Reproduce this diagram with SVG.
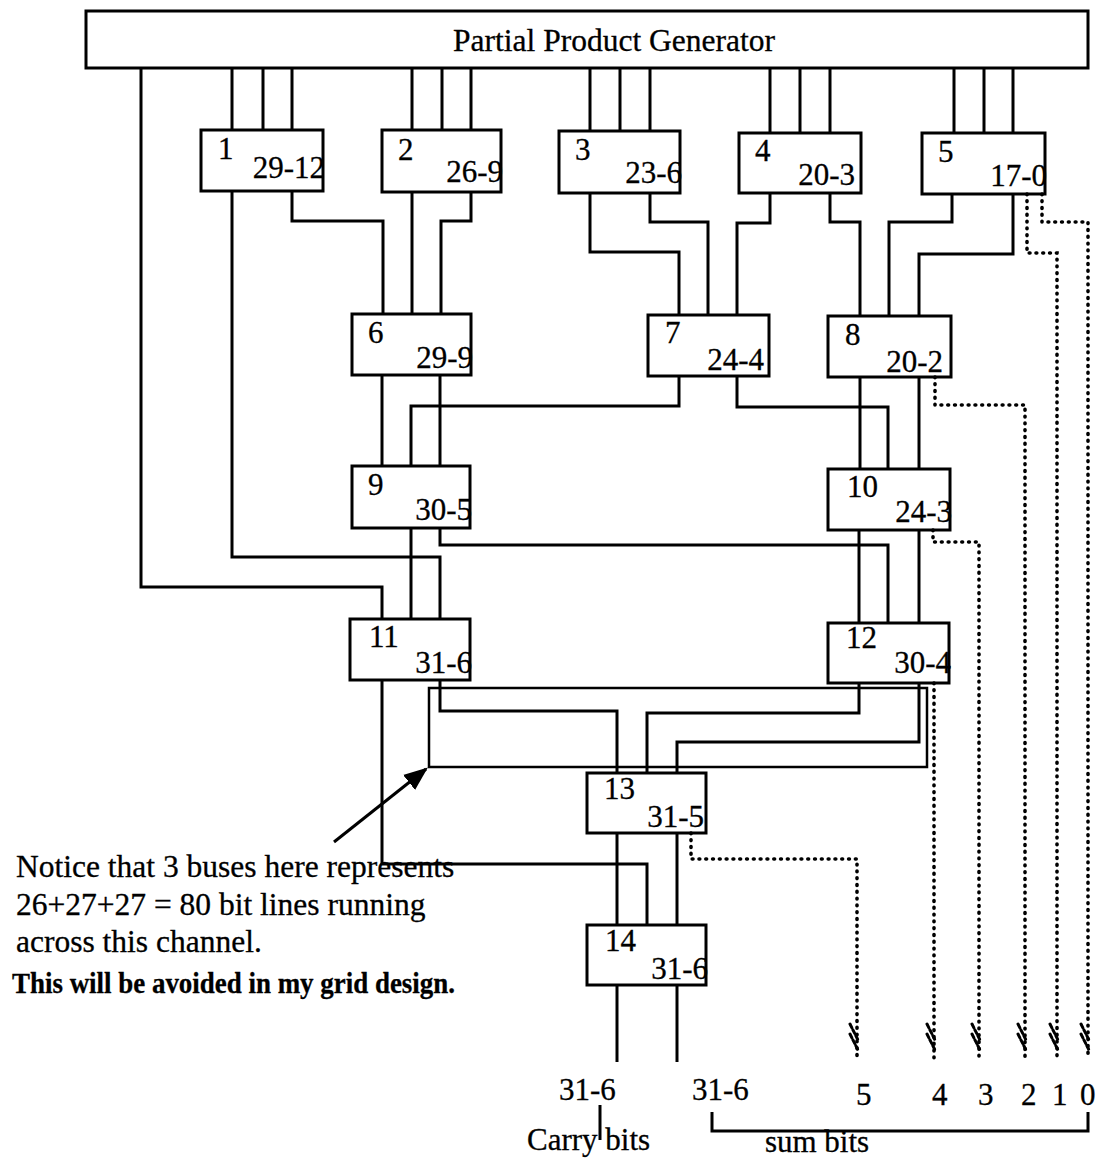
<svg xmlns="http://www.w3.org/2000/svg" width="1102" height="1171" viewBox="0 0 1102 1171">
<style>
  text { font-family: "Liberation Serif", "Times New Roman", serif; fill: #000; stroke: #000; stroke-width: 0.3; }
  .t { font-size: 31.5px; }
  .n { font-size: 31px; }
  .ann { font-size: 31.5px; }
  .bold { font-size: 29px; font-weight: bold; }
  .lbl { font-size: 31px; }
  .box { fill: none; stroke: #000; stroke-width: 3; }
  .w { fill: none; stroke: #000; stroke-width: 3; stroke-linejoin: miter; }
  .ch { fill: none; stroke: #000; stroke-width: 2.5; }
  .dot { fill: none; stroke: #000; stroke-width: 3.6; stroke-linecap: round; stroke-dasharray: 0.8 6; }
  .hatch { fill: none; stroke: #000; stroke-width: 3; stroke-linecap: round; stroke-dasharray: 4 2.5; }
</style>
<defs>
  <marker id="ah" viewBox="0 0 10 10" refX="9" refY="5" markerWidth="8" markerHeight="8" markerUnits="strokeWidth" orient="auto">
    <path d="M0,1 L10,5 L0,9 z" fill="#000"/>
  </marker>
</defs>
<rect width="1102" height="1171" fill="#fff"/>

<g id="ppg">
  <rect class="box" x="86" y="11" width="1002" height="57"/>
  <text class="t" x="614" y="51" text-anchor="middle">Partial Product Generator</text>
</g>

<g id="connectors">
  <path class="w" d="M232,68V130 M263,68V130 M292,68V130"/>
  <path class="w" d="M412,68V130 M442,68V130 M471,68V130"/>
  <path class="w" d="M590,68V131 M620,68V131 M650,68V131"/>
  <path class="w" d="M770,68V133 M800,68V133 M830,68V133"/>
  <path class="w" d="M954,68V133 M984,68V133 M1013,68V133"/>
  <path class="w" d="M141,68V587H382V619"/>
  <path class="w" d="M232,191V557H440V619"/>
  <path class="w" d="M292,191V221H383V314"/>
  <path class="w" d="M412,192V314"/>
  <path class="w" d="M471,192V221H441V314"/>
  <path class="w" d="M590,193V252H679V315"/>
  <path class="w" d="M650,193V222H708V315"/>
  <path class="w" d="M770,193V223H737V315"/>
  <path class="w" d="M830,193V222H860V316"/>
  <path class="w" d="M952,194V222H889V316"/>
  <path class="w" d="M1013,194V254H919V316"/>
  <path class="w" d="M382,375V466"/>
  <path class="w" d="M440,375V466"/>
  <path class="w" d="M679,376V406H411V466"/>
  <path class="w" d="M737,376V407H888V469"/>
  <path class="w" d="M860,377V469"/>
  <path class="w" d="M919,377V469"/>
  <path class="w" d="M411,528V619"/>
  <path class="w" d="M440,528V545H888V623"/>
  <path class="w" d="M859,530V623"/>
  <path class="w" d="M919,530V623"/>
  <path class="w" d="M440,680V711H617V773"/>
  <path class="w" d="M382,680V864H647V925"/>
  <path class="w" d="M859,683V713H647V773"/>
  <path class="w" d="M919,683V742H677V773"/>
  <path class="w" d="M617,833V925"/>
  <path class="w" d="M677,833V925"/>
  <path class="w" d="M617,985V1062"/>
  <path class="w" d="M677,985V1062"/>
  <rect class="ch" x="429" y="688" width="498" height="79"/>
  <line class="w" x1="334" y1="842" x2="426" y2="769" stroke-width="2.5" marker-end="url(#ah)"/>
  <path class="dot" d="M1042,194V222H1088V1058"/>
  <path class="dot" d="M1027,194V253H1057V1058"/>
  <path class="dot" d="M935,377V405H1025V1058"/>
  <path class="dot" d="M933,530V542H979V1058"/>
  <path class="dot" d="M934,683V1058"/>
  <path class="dot" d="M691,833V859H857V1058"/>
  <path class="hatch" d="M850,1024L858,1040 M850,1034L858,1050 M927,1024L935,1040 M927,1034L935,1050 M972,1024L980,1040 M972,1034L980,1050 M1018,1024L1026,1040 M1018,1034L1026,1050 M1050,1024L1058,1040 M1050,1034L1058,1050 M1081,1024L1089,1040 M1081,1034L1089,1050"/>
  <path class="w" d="M600,1105V1140"/>
  <path class="w" d="M712,1112V1131H1088V1112"/>
</g>

<g id="n1"><text class="n" x="218" y="159">1</text><text class="n" x="325" y="178" text-anchor="end">29-12</text><rect class="box" x="201" y="130" width="122" height="61"/></g>
<g id="n2"><text class="n" x="398" y="160">2</text><text class="n" x="503" y="182" text-anchor="end">26-9</text><rect class="box" x="382" y="130" width="119" height="62"/></g>
<g id="n3"><text class="n" x="575" y="160">3</text><text class="n" x="682" y="183" text-anchor="end">23-6</text><rect class="box" x="559" y="131" width="121" height="62"/></g>
<g id="n4"><text class="n" x="755" y="161">4</text><text class="n" x="855" y="185" text-anchor="end">20-3</text><rect class="box" x="739" y="133" width="122" height="60"/></g>
<g id="n5"><text class="n" x="938" y="162">5</text><text class="n" x="1047" y="186" text-anchor="end">17-0</text><rect class="box" x="922" y="133" width="123" height="61"/></g>
<g id="n6"><text class="n" x="368" y="343">6</text><text class="n" x="473" y="368" text-anchor="end">29-9</text><rect class="box" x="352" y="314" width="119" height="61"/></g>
<g id="n7"><text class="n" x="665" y="343">7</text><text class="n" x="764" y="370" text-anchor="end">24-4</text><rect class="box" x="648" y="315" width="121" height="61"/></g>
<g id="n8"><text class="n" x="845" y="345">8</text><text class="n" x="943" y="372" text-anchor="end">20-2</text><rect class="box" x="828" y="316" width="123" height="61"/></g>
<g id="n9"><text class="n" x="368" y="495">9</text><text class="n" x="472" y="520" text-anchor="end">30-5</text><rect class="box" x="352" y="466" width="118" height="62"/></g>
<g id="n10"><text class="n" x="847" y="497">10</text><text class="n" x="952" y="522" text-anchor="end">24-3</text><rect class="box" x="828" y="469" width="122" height="61"/></g>
<g id="n11"><text class="n" x="369" y="647">11</text><text class="n" x="472" y="673" text-anchor="end">31-6</text><rect class="box" x="350" y="619" width="120" height="61"/></g>
<g id="n12"><text class="n" x="846" y="648">12</text><text class="n" x="951" y="673" text-anchor="end">30-4</text><rect class="box" x="828" y="623" width="121" height="60"/></g>
<g id="n13"><text class="n" x="604" y="799">13</text><text class="n" x="704" y="827" text-anchor="end">31-5</text><rect class="box" x="587" y="773" width="119" height="60"/></g>
<g id="n14"><text class="n" x="605" y="951">14</text><text class="n" x="708" y="979" text-anchor="end">31-6</text><rect class="box" x="587" y="925" width="119" height="60"/></g>

<g id="annotation">
  <text class="ann" x="16" y="877">Notice that 3 buses here represents</text>
  <text class="ann" x="16" y="915">26+27+27 = 80 bit lines running</text>
  <text class="ann" x="16" y="952">across this channel.</text>
  <text class="bold" x="12" y="993" textLength="443" lengthAdjust="spacingAndGlyphs">This will be avoided in my grid design.</text>
</g>

<g id="outputs">
  <text class="lbl" x="559" y="1100">31-6</text>
  <text class="lbl" x="527" y="1150">Carry bits</text>
  <text class="lbl" x="692" y="1100">31-6</text>
  <text class="lbl" x="817" y="1152" text-anchor="middle">sum bits</text>
  <text class="lbl" x="856" y="1105">5</text>
  <text class="lbl" x="932" y="1105">4</text>
  <text class="lbl" x="978" y="1105">3</text>
  <text class="lbl" x="1021" y="1105">2</text>
  <text class="lbl" x="1052" y="1105">1</text>
  <text class="lbl" x="1080" y="1105">0</text>
</g>
</svg>
